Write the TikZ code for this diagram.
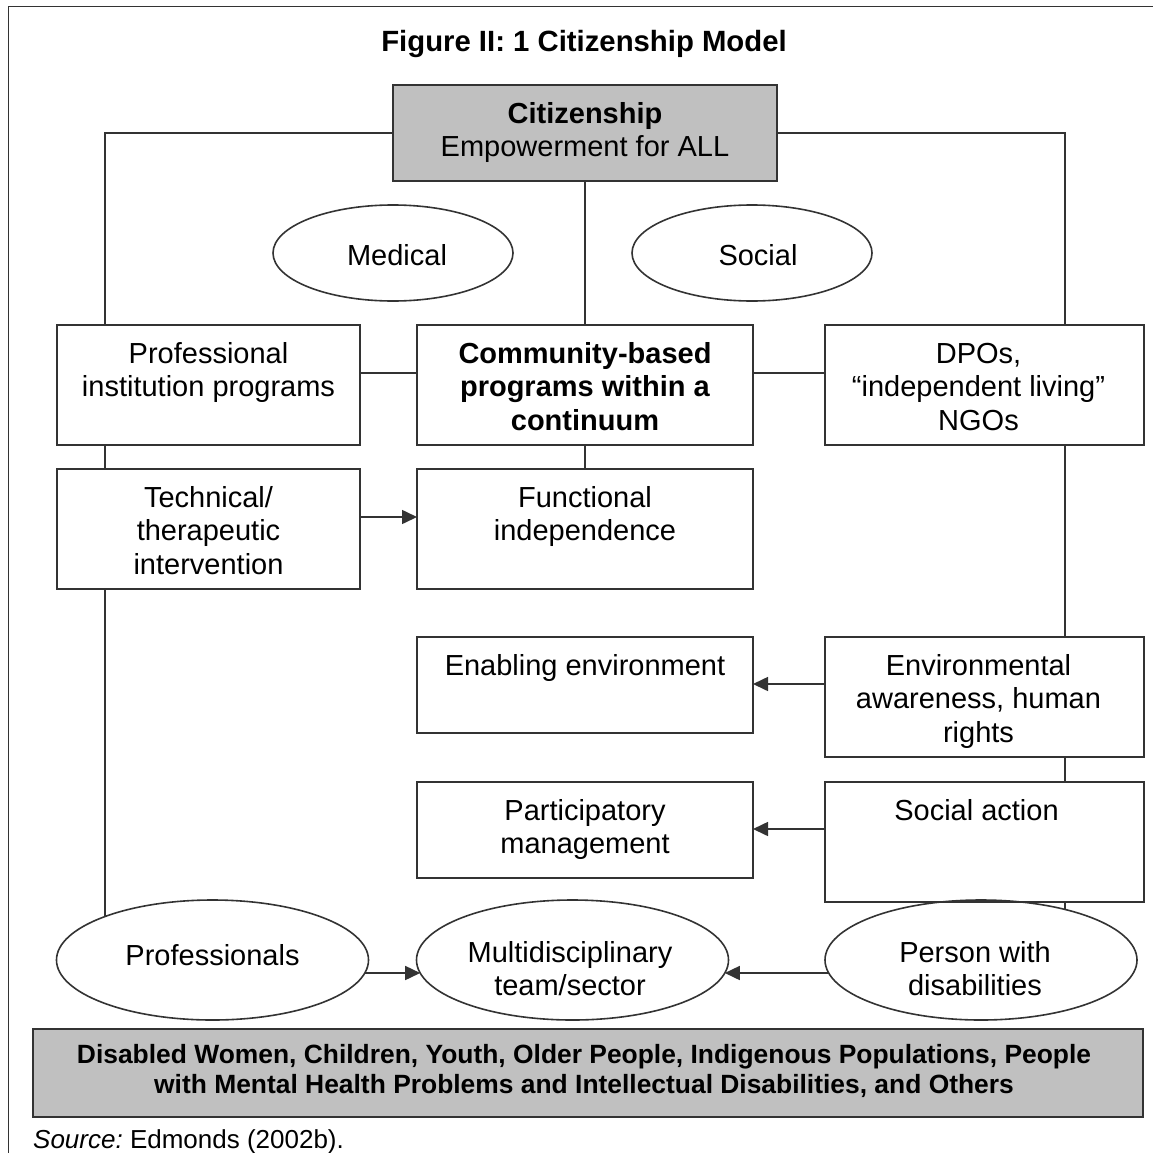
\documentclass[tikz,border=0pt]{standalone}
\usepackage{fontspec}
\setmainfont{Liberation Sans}
\usetikzlibrary{arrows.meta,shapes.geometric,calc}
\frenchspacing
\begin{document}
\begin{tikzpicture}[x=1pt,y=-1pt,
  ln/.style={draw=black!80,line width=1.6pt},
  boxshape/.style={rectangle,ln,inner sep=0pt,outer sep=0pt,anchor=north west},
  grayfill/.style={fill={rgb,255:red,192;green,192;blue,192}},
  ovalshape/.style={ellipse,ln,inner sep=0pt,outer sep=0pt},
  txt/.style={font=\fontsize{29}{33.5}\selectfont,align=center,inner sep=0pt,anchor=north},
  arr/.style={ln,-{Triangle[length=15pt,width=14pt]}}]
\useasboundingbox (0,0) rectangle (1153,1153);
% frame
\draw[ln] (8.5,1153) -- (8.5,6.5) -- (1153,6.5);
% title
\node[font=\bfseries\fontsize{29.3}{34}\selectfont,anchor=base,inner sep=0pt] (title) at (584,52) {Figure II: 1 Citizenship Model};
% bus coordinates
\coordinate (lbus) at (105,0);
\coordinate (rbus) at (1065,0);
\coordinate (row1) at (0,373);
\coordinate (row2) at (0,517);
\coordinate (row3) at (0,684);
\coordinate (row4) at (0,829);
% boxes
\node[boxshape,grayfill,minimum width=384pt,minimum height=96pt] (cit) at (393,85) {};
\node[boxshape,minimum width=303pt,minimum height=120pt] (pro) at (57,325) {};
\node[boxshape,minimum width=336pt,minimum height=120pt] (com) at (417,325) {};
\node[boxshape,minimum width=319pt,minimum height=120pt] (dpo) at (825,325) {};
\node[boxshape,minimum width=303pt,minimum height=120pt] (tech) at (57,469) {};
\node[boxshape,minimum width=336pt,minimum height=120pt] (func) at (417,469) {};
\node[boxshape,minimum width=336pt,minimum height=96pt] (enab) at (417,637) {};
\node[boxshape,minimum width=319pt,minimum height=120pt] (env) at (825,637) {};
\node[boxshape,minimum width=336pt,minimum height=96pt] (part) at (417,782) {};
\node[boxshape,minimum width=319pt,minimum height=120pt] (soc) at (825,782) {};
\node[boxshape,grayfill,minimum width=1110pt,minimum height=88pt] (grp) at (33,1029) {};
% ellipses
\node[ovalshape,minimum width=240pt,minimum height=96pt] (med) at (393,253) {};
\node[ovalshape,minimum width=240pt,minimum height=96pt] (socm) at (752,253) {};
\node[ovalshape,minimum width=312pt,minimum height=120pt] (prof) at (212.5,960) {};
\node[ovalshape,minimum width=312pt,minimum height=120pt] (multi) at (572.5,960) {};
\node[ovalshape,minimum width=312pt,minimum height=120pt] (pers) at (981,960) {};
% texts
\node[txt] (citT) at ([yshift=-14.5pt]cit.north) {\strut\textbf{Citizenship}\\Empowerment for ALL};
\node[txt] (proT) at ([yshift=-14.5pt]pro.north) {\strut Professional\\institution programs};
\node[txt] (comT) at ([yshift=-14.5pt]com.north) {\strut\textbf{Community-based}\\\textbf{programs within a}\\\textbf{continuum}};
\node[txt] (dpoT) at ([xshift=-6pt,yshift=-14.5pt]dpo.north) {\strut DPOs,\\“independent living”\\NGOs};
\node[txt] (techT) at ([yshift=-14.5pt]tech.north) {\strut Technical/\\therapeutic\\intervention};
\node[txt] (funcT) at ([yshift=-14.5pt]func.north) {\strut Functional\\independence};
\node[txt] (enabT) at ([yshift=-14.5pt]enab.north) {\strut Enabling environment};
\node[txt] (envT) at ([xshift=-6pt,yshift=-14.5pt]env.north) {\strut Environmental\\awareness, human\\rights};
\node[txt] (partT) at ([yshift=-14.5pt]part.north) {\strut Participatory\\management};
\node[txt] (socT) at ([xshift=-8pt,yshift=-14.5pt]soc.north) {\strut Social action};
\node[txt] (medT) at (397,242.3) {\strut Medical};
\node[txt] (socmT) at (758,242.3) {\strut Social};
\node[txt] (profT) at (212.5,941.5) {\strut Professionals};
\node[txt] (multiT) at (570,938.5) {\strut Multidisciplinary\\team/sector};
\node[txt] (persT) at (975,938.5) {\strut Person with\\disabilities};
\node[font=\bfseries\fontsize{26.4}{30}\selectfont,align=center,inner sep=0pt,anchor=north] (grpT) at (584,1042) {\strut Disabled Women, Children, Youth, Older People, Indigenous Populations, People\\with Mental Health Problems and Intellectual Disabilities, and Others};
\node[font=\fontsize{26}{30}\selectfont,anchor=base west,inner sep=0pt] (src) at (33,1148) {{\itshape Source:} Edmonds (2002b).};
% connectors
\draw[ln] (cit.west) -| (lbus |- pro.north);
\draw[ln] (cit.east) -| (rbus |- dpo.north);
\draw[ln] (cit.south) -- (com.north);
\draw[ln] (pro.east |- row1) -- (com.west |- row1);
\draw[ln] (com.east |- row1) -- (dpo.west |- row1);
\draw[ln] (lbus |- pro.south) -- (lbus |- tech.north);
\draw[ln] (com.south) -- (func.north);
\draw[arr] (tech.east |- row2) -- (func.west |- row2);
\draw[ln] (lbus |- tech.south) -- ($(prof.center)+(-107.5,-43.5)$);
\draw[ln] (rbus |- dpo.south) -- (rbus |- env.north);
\draw[arr] (env.west |- row3) -- (enab.east |- row3);
\draw[ln] (rbus |- env.south) -- (rbus |- soc.north);
\draw[arr] (soc.west |- row4) -- (part.east |- row4);
\draw[ln] (rbus |- soc.south) -- ($(pers.center)+(84,-50.6)$);
\draw[arr] ($(prof.center)+(152.3,13)$) -- ($(multi.center)+(-152.3,13)$);
\draw[arr] ($(pers.center)+(-152.3,13)$) -- ($(multi.center)+(152.3,13)$);
\end{tikzpicture}
\end{document}
